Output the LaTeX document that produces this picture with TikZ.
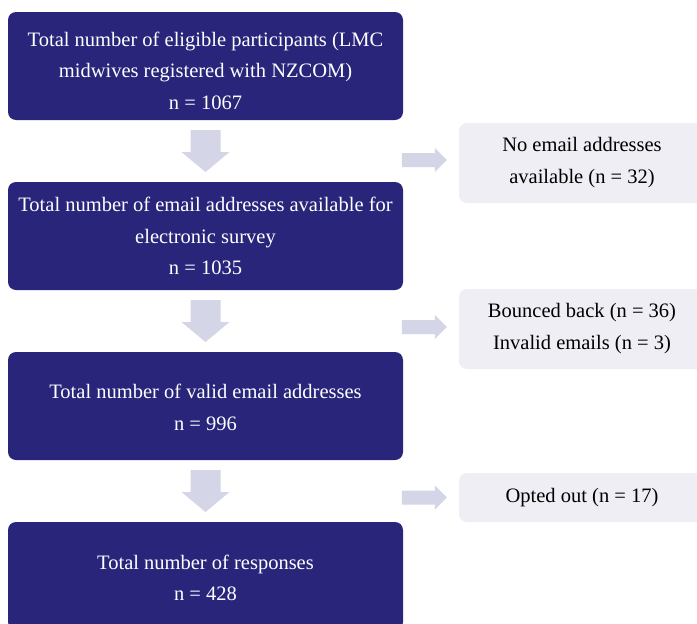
\documentclass[tikz,border=0pt]{standalone}
\usepackage{fontspec}
\setmainfont{Liberation Serif}
\usetikzlibrary{calc}
\definecolor{navy}{RGB}{40,37,122}
\definecolor{arrowc}{RGB}{213,213,232}
\definecolor{sidec}{RGB}{238,238,244}
\tikzset{
  maintext/.style={text=white, align=center, inner sep=0pt, font=\fontsize{20.5}{31.5}\selectfont},
  mainbox/.style={maintext, fill=navy, rounded corners=8pt, minimum width=395pt, minimum height=108pt},
  sidebox/.style={fill=sidec, text=black, rounded corners=8pt, minimum width=246pt, align=center, inner sep=0pt, font=\fontsize{20.5}{32}\selectfont},
  blockarrow/.style={fill=arrowc}
}
\begin{document}
\begin{tikzpicture}[x=1pt,y=-1pt]
\clip (0,0) rectangle (697,624);
\fill[white] (0,0) rectangle (697,624);
\node[mainbox] (b1) at (205.5,66) {};
\node[maintext] (t1) at ($(b1.center)+(0,4.5)$) {Total number of eligible participants (LMC\\midwives registered with NZCOM)\\n = 1067};
\node[mainbox] (b2) at (205.5,236) {Total number of email addresses available for\\electronic survey\\n = 1035};
\node[mainbox] (b3) at (205.5,406) {};
\node[maintext] (t3) at ($(b3.center)+(0,1.5)$) {Total number of valid email addresses\\n = 996};
\node[mainbox] (b4) at (205.5,576) {};
\node[maintext] (t4) at ($(b4.center)+(0,2)$) {Total number of responses\\n = 428};
\node[sidebox, minimum height=80pt] (r1) at (582,163) {No email addresses\\available (n = 32)};
\node[sidebox, minimum height=80pt] (r2) at (582,329) {Bounced back (n = 36)\\Invalid emails (n = 3)};
\node[sidebox, minimum height=49pt] (r3) at (582,497.5) {Opted out (n = 17)};
% down arrows
\foreach \a/\b in {b1/b2,b2/b3,b3/b4}{
  \coordinate (m) at ($(\a.south)!0.5!(\b.north)$);
  \fill[blockarrow] ($(m)+(-15,-21)$) -- ($(m)+(15,-21)$) -- ($(m)+(15,1)$) -- ($(m)+(24,1)$) -- ($(m)+(0,21)$) -- ($(m)+(-24,1)$) -- ($(m)+(-15,1)$) -- cycle;
}
% side arrows
\foreach \r/\d in {r1/-3,r2/-2,r3/0}{
  \coordinate (t) at ($(\r.west)+(-12,\d)$);
  \fill[blockarrow] ($(t)+(-45,-7)$) -- ($(t)+(-12,-7)$) -- ($(t)+(-12,-12)$) -- (t) -- ($(t)+(-12,12)$) -- ($(t)+(-12,7)$) -- ($(t)+(-45,7)$) -- cycle;
}
\end{tikzpicture}
\end{document}
